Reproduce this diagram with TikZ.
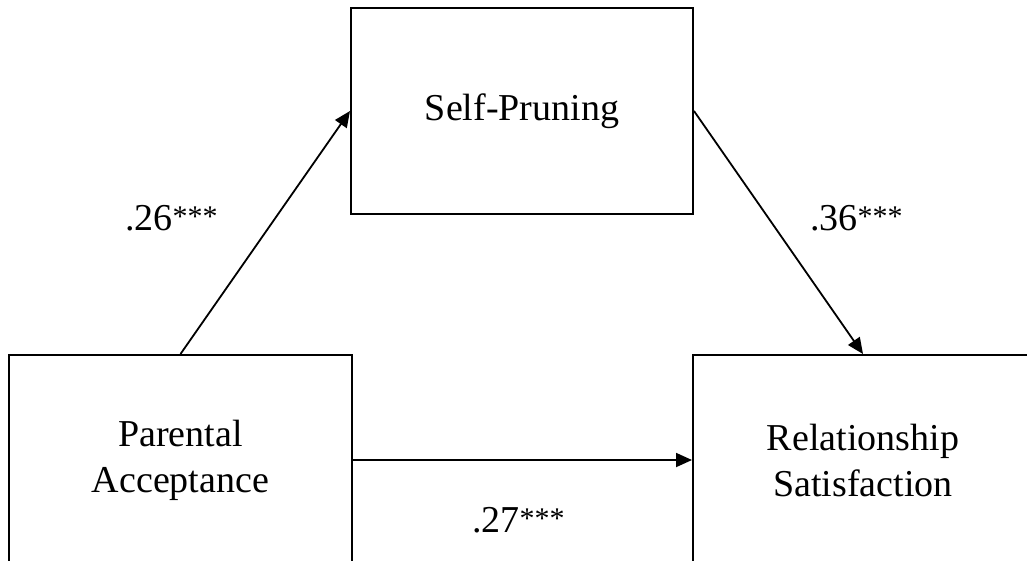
\documentclass[tikz,border=0pt]{standalone}
\usepackage{fontspec}
\setmainfont{Liberation Serif}
\usetikzlibrary{arrows.meta}
\begin{document}
\begin{tikzpicture}[x=1pt,y=-1pt,
  varbox/.style={draw, line width=2pt, align=center, inner sep=0pt,
    font=\fontsize{38}{46}\selectfont},
  link/.style={line width=1.8pt, -{Triangle[length=16pt,width=14pt]}},
  coef/.style={font=\fontsize{38}{46}\selectfont, inner sep=0pt, anchor=base west}]
\newcommand{\stars}{\raisebox{4pt}{\fontsize{30}{30}\selectfont ***}}
\useasboundingbox (0,0) rectangle (1027,560);
% variables
\node[varbox, minimum width=342pt, minimum height=206pt] (sp) at (522,111) {Self-Pruning};
\node[varbox, minimum width=343pt, minimum height=210pt] (pa) at (180.5,460) {Parental\\Acceptance};
\node[varbox, minimum width=340pt, minimum height=210pt] (rs) at (863,460) {Relationship\\Satisfaction};
% paths
\draw[link] (pa.north) -- (sp.west);
\draw[link] (sp.east) -- (rs.north);
\draw[link] (pa.east) -- (rs.west);
% coefficients
\node[coef] (c1) at (125,230) {.26\stars};
\node[coef] (c2) at (810,230) {.36\stars};
\node[coef] (c3) at (472,532) {.27\stars};
\end{tikzpicture}
\end{document}
